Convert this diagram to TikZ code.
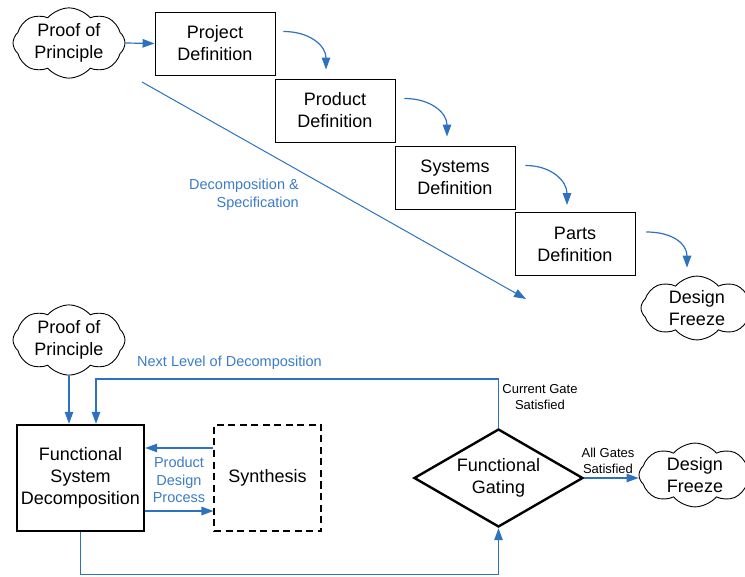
\documentclass[tikz,border=0pt]{standalone}
\usepackage{fontspec}
\setmainfont{Liberation Sans}
\usetikzlibrary{shapes.geometric,shapes.symbols,arrows.meta}
\definecolor{flowblue}{RGB}{44,114,190}
\definecolor{labelblue}{RGB}{58,124,198}

\begin{document}
\begin{tikzpicture}[x=1pt,y=-1pt,
  every node/.style={inner sep=0pt, align=center},
  bigtext/.style={font=\fontsize{18}{22}\selectfont},
  blabel/.style={font=\fontsize{14.5}{17.5}\selectfont, text=labelblue},
  slabel/.style={font=\fontsize{13}{15.5}\selectfont},
  stagebox/.style={draw, line width=0.9pt, minimum width=120pt, minimum height=63pt, bigtext},
  idea/.style={cloud, cloud puffs=8, cloud puff arc=100, aspect=2, draw, line width=0.9pt,
    minimum width=112pt, minimum height=56pt, bigtext},
  flow/.style={draw=flowblue, line width=1.2pt, -{Triangle[length=12pt,width=8.5pt]}},
  stepcurve/.style={flow}
]
\clip (0,0) rectangle (745,577);

% ---- stage-gate cascade ----
\node[idea] (popA) at (69,43) {Proof of\\Principle};
\node[stagebox] (proj) at (215,43.5) {Project\\Definition};
\node[stagebox] (prod) at (335,110.5) {Product\\Definition};
\node[stagebox] (sys)  at (455,177.5) {Systems\\Definition};
\node[stagebox] (parts) at (575,244) {Parts\\Definition};
\node[idea] (freezeA) at (697,308) {Design\\Freeze};

\draw[flow] (popA.east) -- (proj.west);
\draw[stepcurve] ([shift={(8,-12)}]proj.east) .. controls +(26,0) and +(0,-24) .. ([shift={(-9,-9)}]prod.north);
\draw[stepcurve] ([shift={(9,-12)}]prod.east) .. controls +(26,0) and +(0,-24) .. ([shift={(-8,-9)}]sys.north);
\draw[stepcurve] ([shift={(10,-12)}]sys.east) .. controls +(26,0) and +(0,-24) .. ([shift={(-8,-7)}]parts.north);
\draw[stepcurve] ([shift={(11,-12)}]parts.east) .. controls +(26,0) and +(0,-24) .. ([shift={(-10,-8)}]freezeA.north);

\coordinate (dstart) at (142,82);
\coordinate (dend) at (526,299);
\draw[flow, line width=1pt] (dstart) -- (dend);
\node[blabel, align=right, anchor=east] (declbl) at (299,195) {Decomposition \&\\Specification};

% ---- decomposition loop ----
\node[idea] (popB) at (69,340) {Proof of\\Principle};
\node[draw, line width=2.4pt, minimum width=127pt, minimum height=106pt, bigtext] (fsd) at (80.5,478)
  {Functional\\System\\Decomposition};
\node[draw, line width=1.1pt, dash pattern=on 7pt off 4.5pt, minimum width=107pt, minimum height=106pt, bigtext]
  (syn) at (267.5,478) {Synthesis};
\node[diamond, aspect=1.72, draw, line width=2.4pt, minimum width=169pt, minimum height=98pt, bigtext]
  (gate) at (498.5,478) {Functional\\Gating};
\node[idea] (freezeB) at (695,475) {Design\\Freeze};

\coordinate (looptop) at (0,379);
\draw[flow] (popB.south) -- (popB.south |- fsd.north);
\draw[flow] (gate.north) -- (gate.north |- looptop) -| ([shift={(15.5,0)}]fsd.north);
\draw[flow] ([shift={(0,-30)}]syn.west) -- ([shift={(0,-30)}]syn.west -| fsd.east);
\draw[flow] ([shift={(0,33)}]fsd.east) -- ([shift={(0,33)}]fsd.east -| syn.west);
\draw[flow] (fsd.south) -- ++(0,42) -| (gate.south);
\draw[flow] (gate.east) -- (gate.east -| freezeB.west);

\node[blabel, anchor=west] (nextlbl) at (137,363) {Next Level of Decomposition};
\node[blabel] (pdplbl) at (179,480) {Product\\Design\\Process};
\node[slabel] (curlbl) at (540,397) {Current Gate\\Satisfied};
\node[slabel] (alllbl) at (608,461) {All Gates\\Satisfied};
\end{tikzpicture}
\end{document}
